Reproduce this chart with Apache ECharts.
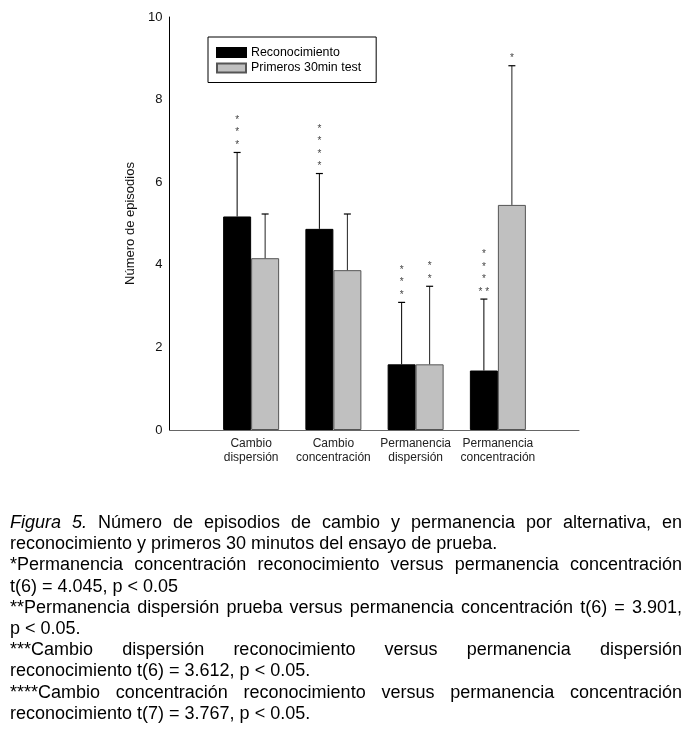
<!DOCTYPE html>
<html><head><meta charset="utf-8">
<script src="https://cdn.jsdelivr.net/npm/echarts@6/dist/echarts.min.js"></script>
<style>html,body{margin:0;padding:0;background:#fff}#c{width:693px;height:732px}</style>
</head><body><div id="c"></div>
<script>
// ---- data ----
const categories = ['Cambio\ndispersión', 'Cambio\nconcentración', 'Permanencia\ndispersión', 'Permanencia\nconcentración'];
const seriesNames = ['Reconocimiento', 'Primeros 30min test'];
const reconocimiento = [5.17, 4.87, 1.59, 1.44];
const primeros30 = [4.16, 3.87, 1.59, 5.45];
const reconocimientoErrTop = [6.72, 6.21, 3.09, 3.17];
const primeros30ErrTop = [5.23, 5.23, 3.48, 8.82];
const reconocimientoStars = ['*\n*\n*', '*\n*\n*\n*', '*\n*\n*', '*\n*\n*\n* *'];
const primeros30Stars = ['', '', '*\n*', '*'];
const yAxisName = 'Número de episodios';
const yMin = 0, yMax = 10, yInterval = 2;
const captionLines = [
  ['Figura 5. Número de episodios de cambio y permanencia por alternativa, en', true],
  ['reconocimiento y primeros 30 minutos del ensayo de prueba.', false],
  ['*Permanencia concentración reconocimiento versus permanencia concentración', true],
  ['t(6) = 4.045, p < 0.05', false],
  ['**Permanencia dispersión prueba versus permanencia concentración t(6) = 3.901,', true],
  ['p < 0.05.', false],
  ['***Cambio dispersión reconocimiento versus permanencia dispersión', true],
  ['reconocimiento t(6) = 3.612, p < 0.05.', false],
  ['****Cambio concentración reconocimiento versus permanencia concentración', true],
  ['reconocimiento t(7) = 3.767, p < 0.05.', false]
];
const italicWords = ['Figura', '5.'];

// ---- layout ----
const BAR_W = 28;
const CAP_W = 7;
const FONT = '"Liberation Sans", Arial, sans-serif';
const CAP_FS = 18, CAP_LEFT = 10, CAP_RIGHT = 682, CAP_TOP = 523, CAP_LH = 21.2;

const chart = echarts.init(document.getElementById('c'), null, {renderer: 'canvas'});

function errSeries(means, tops, stars, side, color) {
  return {
    type: 'custom', xAxisIndex: 1, yAxisIndex: 1, z: 3, silent: true,
    data: means.map((m, i) => [i, tops[i], m]),
    renderItem(params, api) {
      const i = api.value(0);
      const pTop = api.coord([i, api.value(1)]);
      const pBase = api.coord([i, api.value(2)]);
      const x = pTop[0] + side * BAR_W / 2;
      const children = [
        {type: 'line', shape: {x1: x, y1: pBase[1], x2: x, y2: pTop[1]}, style: {stroke: color, lineWidth: 1}},
        {type: 'line', shape: {x1: x - CAP_W / 2, y1: pTop[1], x2: x + CAP_W / 2, y2: pTop[1]}, style: {stroke: '#000', lineWidth: 1.2}}
      ];
      const s = stars[i];
      if (s) {
        children.push({type: 'text', style: {text: s, x: x, y: pTop[1] - 1, align: 'center', verticalAlign: 'bottom',
          font: '10px ' + FONT, lineHeight: 12.5, fill: '#444'}});
      }
      return {type: 'group', children};
    }
  };
}

// caption with justification
const ctx = document.createElement('canvas').getContext('2d');
function fontFor(w) { return (italicWords.includes(w) ? 'italic ' : '') + CAP_FS + 'px ' + FONT; }
const captionGraphics = [];
captionLines.forEach(([line, justify], li) => {
  const y = CAP_TOP + li * CAP_LH;
  const words = line.split(' ');
  const widths = words.map(w => { ctx.font = fontFor(w); return ctx.measureText(w).width; });
  ctx.font = CAP_FS + 'px ' + FONT;
  const spaceW = ctx.measureText(' ').width;
  const total = widths.reduce((a, b) => a + b, 0);
  const gap = justify && words.length > 1 ? (CAP_RIGHT - CAP_LEFT - total) / (words.length - 1) : spaceW;
  let x = CAP_LEFT;
  words.forEach((w, wi) => {
    captionGraphics.push({type: 'text', x: x, y: y, style: {text: w, font: fontFor(w), fill: '#000', verticalAlign: 'middle'}});
    x += widths[wi] + gap;
  });
});

const option = {
  backgroundColor: '#fff',
  animation: false,
  textStyle: {fontFamily: FONT},
  grid: [
    {left: 169.5, right: 114, top: 17, bottom: 302},
    {left: 210, right: 154, top: 17, bottom: 302}
  ],
  xAxis: [
    {type: 'value', gridIndex: 0, min: 0, max: 5, axisLine: {show: true, lineStyle: {color: '#666', width: 1}},
      axisTick: {show: false}, axisLabel: {show: false}, splitLine: {show: false}},
    {type: 'category', gridIndex: 1, data: categories, axisLine: {show: false}, axisTick: {show: false},
      axisLabel: {interval: 0, fontSize: 12, lineHeight: 14, color: '#222', margin: 7, fontFamily: FONT}}
  ],
  yAxis: [
    {type: 'value', gridIndex: 0, min: yMin, max: yMax, interval: yInterval,
      axisLine: {show: true, lineStyle: {color: '#000', width: 1}}, axisTick: {show: false},
      axisLabel: {fontSize: 13, color: '#111', margin: 7, fontFamily: FONT}, splitLine: {show: false},
      name: yAxisName, nameLocation: 'middle', nameGap: 31, nameTextStyle: {fontSize: 13, color: '#111', fontFamily: FONT}},
    {type: 'value', gridIndex: 1, min: yMin, max: yMax, interval: yInterval, show: false}
  ],
  legend: {
    orient: 'vertical', left: 208, top: 37, data: seriesNames, icon: 'rect',
    itemWidth: 29, itemHeight: 9, itemGap: 3.5,
    borderColor: '#000', borderWidth: 1, borderRadius: 0, padding: [9.5, 15, 8.5, 8],
    textStyle: {fontSize: 12.4, color: '#000', fontFamily: FONT}
  },
  series: [
    {name: seriesNames[0], type: 'bar', xAxisIndex: 1, yAxisIndex: 1, data: reconocimiento, barWidth: BAR_W, barGap: '0%', z: 2,
      itemStyle: {color: '#000', borderColor: '#000', borderWidth: 1}},
    {name: seriesNames[1], type: 'bar', xAxisIndex: 1, yAxisIndex: 1, data: primeros30, barWidth: BAR_W, barGap: '0%', z: 2,
      itemStyle: {color: '#c0c0c0', borderColor: '#555', borderWidth: 1}},
    errSeries(reconocimiento, reconocimientoErrTop, reconocimientoStars, -1, '#000'),
    errSeries(primeros30, primeros30ErrTop, primeros30Stars, 1, '#222')
  ],
  graphic: captionGraphics
};
chart.setOption(option);
</script></body></html>
